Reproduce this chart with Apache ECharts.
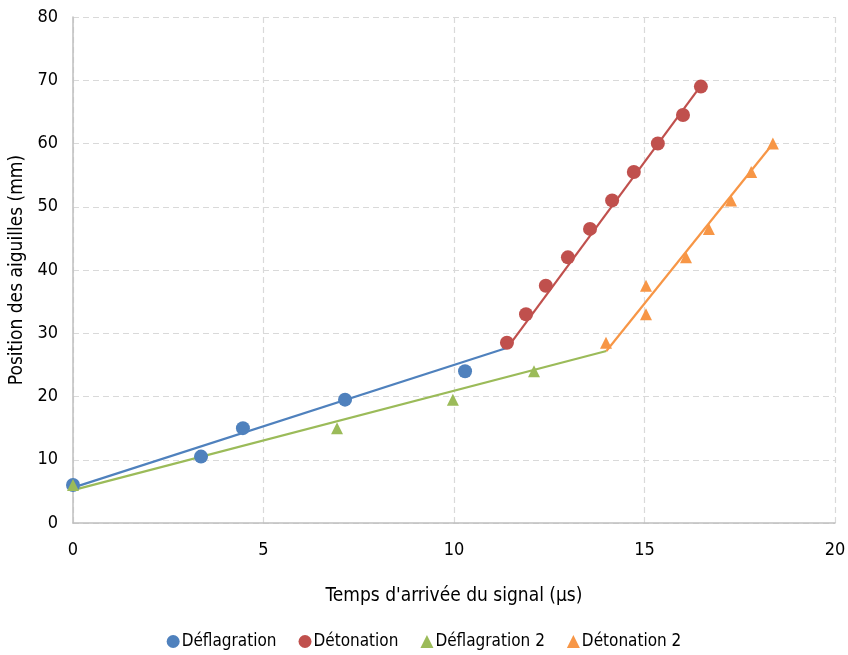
<!DOCTYPE html>
<html><head><meta charset="utf-8">
<script src="https://cdn.jsdelivr.net/npm/echarts@6/dist/echarts.min.js"></script>
<style>html,body{margin:0;padding:0;background:#fff}#c{width:848px;height:655px}</style>
</head><body><div id="c"></div>
<script>
const FONT = "'Liberation Sans Narrow', 'DejaVu Sans Condensed', 'Noto Sans', sans-serif";
const xTicks = [0, 5, 10, 15, 20];
const yTicks = [0, 10, 20, 30, 40, 50, 60, 70, 80];
const seriesNames = ['Déflagration', 'Détonation', 'Déflagration 2', 'Détonation 2'];
const deflagration = [[0, 6], [3.36, 10.5], [4.46, 15], [7.14, 19.5], [10.29, 24]];
const detonation = [[11.39, 28.5], [11.89, 33], [12.41, 37.5], [12.99, 42], [13.57, 46.5], [14.15, 51], [14.72, 55.5], [15.35, 60], [16.01, 64.5], [16.48, 69]];
const deflagration2 = [[0, 6], [6.93, 15], [9.97, 19.5], [12.1, 24]];
const detonation2 = [[13.99, 28.5], [15.04, 33], [15.04, 37.5], [16.09, 42], [16.69, 46.5], [17.27, 51], [17.8, 55.5], [18.37, 60]];
const trendDeflagration = [[0, 5.6], [11.4, 27.7]];
const trendDetonation = [[11.4, 27.7], [16.5, 69.3]];
const trendDeflagration2 = [[0, 5.2], [14.0, 27.2]];
const trendDetonation2 = [[14.0, 27.2], [18.4, 60.2]];
const colors = ['#4F81BD', '#C0504D', '#9BBB59', '#F79646'];

const chart = echarts.init(document.getElementById('c'));
function trend(data, color) {
  return { type: 'line', data: data, symbol: 'none', silent: true, z: 1,
    lineStyle: { color: color, width: 2.2 }, itemStyle: { color: color } };
}
function pts(name, data, color, sym, size) {
  return { name: name, type: 'scatter', data: data, symbol: sym, symbolSize: size, z: 3,
    itemStyle: { color: color, opacity: 1 } };
}
chart.setOption({
  animation: false,
  color: colors,
  textStyle: { fontFamily: FONT },
  grid: { left: 73, right: 13, top: 17, bottom: 132, containLabel: false, outerBoundsMode: 'none' },
  xAxis: {
    type: 'value', min: xTicks[0], max: xTicks[xTicks.length - 1], interval: 5,
    name: "Temps d'arrivée du signal (µs)", nameLocation: 'middle', nameGap: 64,
    nameTextStyle: { fontSize: 19, color: '#000', fontFamily: FONT },
    axisLine: { show: true, lineStyle: { color: '#BFBFBF', width: 1.5 } },
    axisTick: { show: false },
    axisLabel: { fontSize: 18, color: '#000', margin: 18, fontFamily: FONT },
    splitLine: { show: true, lineStyle: { color: '#D9D9D9', type: [6, 4], width: 1.2 } }
  },
  yAxis: {
    type: 'value', min: yTicks[0], max: yTicks[yTicks.length - 1], interval: 10,
    name: 'Position des aiguilles (mm)', nameLocation: 'middle', nameGap: 41, nameRotate: 90,
    nameTextStyle: { fontSize: 19, color: '#000', fontFamily: FONT },
    axisLine: { show: true, lineStyle: { color: '#BFBFBF', width: 1.5 } },
    axisTick: { show: false },
    axisLabel: { fontSize: 18, color: '#000', margin: 15, fontFamily: FONT },
    splitLine: { show: true, lineStyle: { color: '#D9D9D9', type: [6, 4], width: 1.2 } }
  },
  legend: {
    bottom: 0, left: 'center', itemGap: 22, itemWidth: 13, itemHeight: 13,
    textStyle: { fontSize: 17, color: '#000', fontFamily: FONT, padding: [0, 0, 0, -3] },
    data: [
      { name: seriesNames[0], icon: 'circle' },
      { name: seriesNames[1], icon: 'circle' },
      { name: seriesNames[2], icon: 'triangle' },
      { name: seriesNames[3], icon: 'triangle' }
    ]
  },
  series: [
    trend(trendDeflagration, colors[0]),
    trend(trendDetonation, colors[1]),
    trend(trendDeflagration2, colors[2]),
    trend(trendDetonation2, colors[3]),
    pts(seriesNames[0], deflagration, colors[0], 'circle', 14),
    pts(seriesNames[1], detonation, colors[1], 'circle', 14),
    pts(seriesNames[2], deflagration2, colors[2], 'triangle', 12),
    pts(seriesNames[3], detonation2, colors[3], 'triangle', 12)
  ]
});
</script></body></html>
